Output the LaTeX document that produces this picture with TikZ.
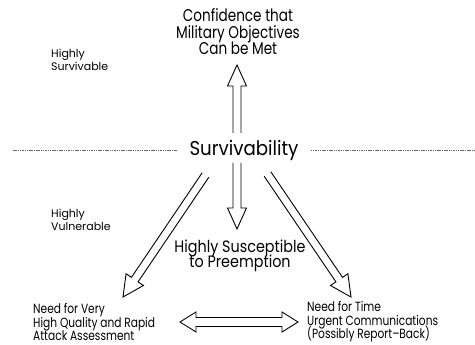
\documentclass[tikz,border=0pt]{standalone}
\usepackage{fontspec}
\setmainfont{Poppins}
\newfontfamily\fontA{Poppins}[FakeStretch=0.80]
\newfontfamily\fontB{Poppins}[FakeStretch=0.87]
\newfontfamily\fontC{Poppins}[FakeStretch=0.91]
\setlength{\lineskiplimit}{-100pt}
\usetikzlibrary{calc}
\tikzset{
  blockarr/.style={draw=black, line width=0.9pt, line join=miter},
  lbl/.style={inner sep=0pt, align=center},
  sidelbl/.style={inner sep=0pt, align=left, anchor=west},
  sep/.style={draw=black!60, line width=0.5pt, dash pattern=on 1.5pt off 0.8pt}
}
\newcommand\onearrow[5]{%
  \coordinate (tmpH) at ($(#2)!#5!(#1)$);
  \draw[blockarr] ($(#1)!#3!90:(#2)$) -- ($(tmpH)!#3!90:(#2)$) -- ($(tmpH)!#4!90:(#2)$) -- (#2)
    -- ($(tmpH)!#4!-90:(#2)$) -- ($(tmpH)!#3!-90:(#2)$) -- ($(#1)!#3!-90:(#2)$);}
\newcommand\twoarrow[5]{%
  \coordinate (tmpH) at ($(#2)!#5!(#1)$);
  \coordinate (tmpG) at ($(#1)!#5!(#2)$);
  \draw[blockarr] (#1) -- ($(tmpG)!#4!90:(#2)$) -- ($(tmpG)!#3!90:(#2)$) -- ($(tmpH)!#3!90:(#2)$)
    -- ($(tmpH)!#4!90:(#2)$) -- (#2) -- ($(tmpH)!#4!-90:(#2)$) -- ($(tmpH)!#3!-90:(#2)$)
    -- ($(tmpG)!#3!-90:(#2)$) -- ($(tmpG)!#4!-90:(#2)$) -- cycle;}
\begin{document}
\begin{tikzpicture}[x=1pt,y=-1pt]
\useasboundingbox (0,0) rectangle (475,345);
% texts
\node[lbl, font=\fontA\fontsize{17}{16.5}\selectfont] (conf) at (238,32) {Confidence that\\Military Objectives\\Can be Met};
\node[lbl, inner xsep=12pt, font=\fontC\fontsize{20}{24}\selectfont] (surv) at (244,150) {Survivability};
\node[sidelbl, font=\fontsize{11}{13}\selectfont] (hsurv) at (51,59.5) {Highly\\Survivable};
\node[sidelbl, font=\fontsize{11}{13}\selectfont] (hvul) at (51,219.5) {Highly\\Vulnerable};
\node[lbl, font=\fontB\fontsize{16.5}{15.5}\selectfont] (susc) at (240,256) {Highly Susceptible\\to Preemption};
\node[sidelbl, font=\fontA\fontsize{13.3}{13.5}\selectfont] (need1) at (33,322) {Need for Very\\High Quality and Rapid\\Attack Assessment};
\node[sidelbl, font=\fontA\fontsize{13.3}{13.5}\selectfont] (need2) at (307,322) {Need for Time\\Urgent Communications\\(Possibly Report–Back)};
% separator
\coordinate (dl) at (13,150);
\coordinate (dr) at (475,150);
\draw[sep] (dl) -- (surv.west);
\draw[sep] (surv.east) -- (dr);
% arrow ends
\coordinate (upA) at (237,133);
\coordinate (upB) at (237,65);
\coordinate (dnA) at (237,163);
\coordinate (dnB) at (237,229);
\coordinate (lA) at (205.5,175);
\coordinate (lB) at (123,297);
\coordinate (rA) at (267.5,174);
\coordinate (rB) at (351,297);
\coordinate (hA) at (180,322);
\coordinate (hB) at (298,322);
\onearrow{upA}{upB}{4pt}{9.5pt}{21pt}
\onearrow{dnA}{dnB}{4pt}{9.5pt}{21pt}
\onearrow{lA}{lB}{4pt}{10.5pt}{21pt}
\onearrow{rA}{rB}{4pt}{10.5pt}{21pt}
\twoarrow{hA}{hB}{4.5pt}{10pt}{16pt}
\end{tikzpicture}
\end{document}
